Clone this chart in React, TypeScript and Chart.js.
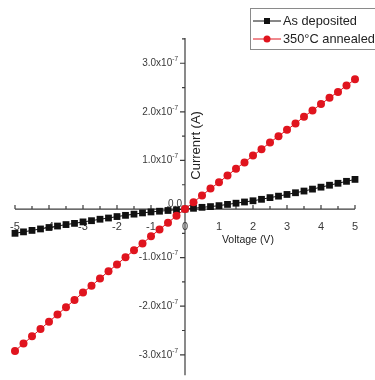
import React, { useEffect, useRef } from "react";
import { Chart, registerables } from "chart.js";

Chart.register(...registerables);

// Voltage (V)
const voltage = [
  -5, -4.75, -4.5, -4.25, -4, -3.75, -3.5, -3.25, -3, -2.75, -2.5, -2.25, -2, -1.75, -1.5, -1.25, -1, -0.75, -0.5, -0.25,
  0, 0.25, 0.5, 0.75, 1, 1.25, 1.5, 1.75, 2, 2.25, 2.5, 2.75, 3, 3.25, 3.5, 3.75, 4, 4.25, 4.5, 4.75, 5,
];

// Current, in units of 1e-7 A
const asDeposited = [
  -0.5, -0.47, -0.44, -0.41, -0.38, -0.35, -0.32, -0.295, -0.265, -0.24, -0.21, -0.185, -0.155, -0.13, -0.105, -0.08,
  -0.06, -0.045, -0.03, -0.015, 0, 0.015, 0.035, 0.05, 0.07, 0.095, 0.12, 0.145, 0.17, 0.2, 0.235, 0.265, 0.3, 0.335,
  0.37, 0.41, 0.45, 0.49, 0.53, 0.57, 0.61,
];

const annealed = [
  -2.92, -2.77, -2.62, -2.47, -2.32, -2.17, -2.02, -1.87, -1.72, -1.58, -1.43, -1.28, -1.14, -0.99, -0.85, -0.71, -0.56,
  -0.42, -0.28, -0.14, 0, 0.14, 0.28, 0.42, 0.55, 0.69, 0.83, 0.96, 1.1, 1.23, 1.37, 1.5, 1.63, 1.76, 1.9, 2.03, 2.16,
  2.29, 2.41, 2.54, 2.67,
];

const seriesNames = ["As deposited", "350°C annealed"];
const xTickLabels = [-5, -4, -3, -2, -1, 0, 1, 2, 3, 4, 5];
const xMinorTicks = [-4.5, -3.5, -2.5, -1.5, -0.5, 0.5, 1.5, 2.5, 3.5, 4.5];
const yTickLabels = [-3, -2, -1, 1, 2, 3];
const yMinorTicks = [-2.5, -1.5, -0.5, 0.5, 1.5, 2.5, 3.5];
const yExponent = "-7";
const xTitle = "Voltage (V)";
const yTitle = "Currenrt (A)";

const FONT = '"Liberation Sans", Arial, sans-serif';

const axesPlugin = {
  id: "crossAxes",
  beforeDatasetsDraw(chart: any) {
    const { ctx, scales } = chart;
    const x = scales.x;
    const y = scales.y;
    const x0 = x.getPixelForValue(0);
    const y0 = y.getPixelForValue(0);
    ctx.save();
    ctx.strokeStyle = "#3c3c3c";
    ctx.lineWidth = 1.2;
    ctx.beginPath();
    ctx.moveTo(x.getPixelForValue(-5), y0);
    ctx.lineTo(x.getPixelForValue(5), y0);
    ctx.moveTo(x0, y.top);
    ctx.lineTo(x0, y.bottom);
    for (const v of xTickLabels) {
      const px = x.getPixelForValue(v);
      ctx.moveTo(px, y0);
      ctx.lineTo(px, y0 - 4);
    }
    for (const v of xMinorTicks) {
      const px = x.getPixelForValue(v);
      ctx.moveTo(px, y0);
      ctx.lineTo(px, y0 - 3);
    }
    for (const v of yTickLabels) {
      const py = y.getPixelForValue(v);
      ctx.moveTo(x0, py);
      ctx.lineTo(x0 - 5, py);
    }
    for (const v of yMinorTicks) {
      const py = y.getPixelForValue(v);
      ctx.moveTo(x0, py);
      ctx.lineTo(x0 - 3, py);
    }
    ctx.stroke();

    // x tick labels
    ctx.fillStyle = "#3a3a3a";
    ctx.font = `11px ${FONT}`;
    ctx.textAlign = "center";
    ctx.textBaseline = "top";
    for (const v of xTickLabels) {
      ctx.fillText(String(v), x.getPixelForValue(v), y0 + 12);
    }

    // y tick labels with superscript exponent
    const right = x0 - 7;
    ctx.textBaseline = "middle";
    for (const v of yTickLabels) {
      const py = y.getPixelForValue(v);
      ctx.font = `6.5px ${FONT}`;
      const supW = ctx.measureText(yExponent).width;
      ctx.textAlign = "left";
      ctx.fillText(yExponent, right - supW, py - 4);
      ctx.font = `10px ${FONT}`;
      ctx.textAlign = "right";
      ctx.fillText(v.toFixed(1) + "x10", right - supW, py);
    }
    ctx.font = `10px ${FONT}`;
    ctx.textAlign = "right";
    ctx.fillText("0.0", x0 - 3, y0 - 5);
    ctx.restore();
  },
  afterDraw(chart: any) {
    const { ctx, scales } = chart;
    const x = scales.x;
    const y = scales.y;
    ctx.save();
    ctx.fillStyle = "#222";
    ctx.textAlign = "center";
    ctx.textBaseline = "middle";
    ctx.font = `10.5px ${FONT}`;
    ctx.fillText(xTitle, x.getPixelForValue(1.85), y.getPixelForValue(-0.64));
    ctx.translate(x.getPixelForValue(0.35), y.getPixelForValue(1.31));
    ctx.rotate(-Math.PI / 2);
    ctx.font = `13px ${FONT}`;
    ctx.fillText(yTitle, 0, 0);
    ctx.restore();

    // legend
    ctx.save();
    ctx.strokeStyle = "#8a8a8a";
    ctx.lineWidth = 1;
    ctx.strokeRect(250.5, 8.5, 140, 41);
    const entries = [
      { name: seriesNames[0], color: "#111", shape: "rect", yy: 21 },
      { name: seriesNames[1], color: "#e0141e", shape: "circle", yy: 39 },
    ];
    for (const e of entries) {
      ctx.strokeStyle = e.color;
      ctx.lineWidth = 1;
      ctx.beginPath();
      ctx.moveTo(253, e.yy);
      ctx.lineTo(281, e.yy);
      ctx.stroke();
      ctx.fillStyle = e.color;
      if (e.shape === "rect") {
        ctx.fillRect(264, e.yy - 3, 6, 6);
      } else {
        ctx.beginPath();
        ctx.arc(267, e.yy, 3.5, 0, Math.PI * 2);
        ctx.fill();
      }
      ctx.fillStyle = "#222";
      ctx.font = `12.8px ${FONT}`;
      ctx.textAlign = "left";
      ctx.textBaseline = "middle";
      ctx.fillText(e.name, 283, e.yy);
    }
    ctx.restore();
  },
};

export default function App() {
  const canvasRef = useRef<HTMLCanvasElement | null>(null);

  useEffect(() => {
    document.body.style.margin = "0";
    const canvas = canvasRef.current;
    if (!canvas) return;
    const chart = new Chart(canvas, {
      type: "line",
      data: {
        datasets: [
          {
            label: seriesNames[1],
            data: voltage.map((v, i) => ({ x: v, y: annealed[i] })),
            borderColor: "#e0141e",
            backgroundColor: "#e0141e",
            borderWidth: 1,
            pointStyle: "circle",
            pointRadius: 4,
            pointBorderWidth: 0,
            order: 1,
            clip: false,
          },
          {
            label: seriesNames[0],
            data: voltage.map((v, i) => ({ x: v, y: asDeposited[i] })),
            borderColor: "#111",
            backgroundColor: "#111",
            borderWidth: 1,
            pointStyle: "rect",
            pointRadius: 4.8,
            pointBorderWidth: 0,
            order: 2,
            clip: false,
          },
        ],
      },
      options: {
        responsive: false,
        animation: false,
        devicePixelRatio: 1,
        layout: { padding: { left: 15, right: 20, top: 38, bottom: 0 } },
        plugins: { legend: { display: false }, tooltip: { enabled: false } },
        scales: {
          x: { type: "linear", min: -5, max: 5, display: false },
          y: { type: "linear", min: -3.42, max: 3.52, display: false },
        },
      },
      plugins: [axesPlugin],
    } as any);
    return () => chart.destroy();
  }, []);

  return (
    <div style={{ width: 375, height: 380, background: "#fff" }}>
      <canvas ref={canvasRef} width={375} height={380} style={{ display: "block" }} />
    </div>
  );
}
